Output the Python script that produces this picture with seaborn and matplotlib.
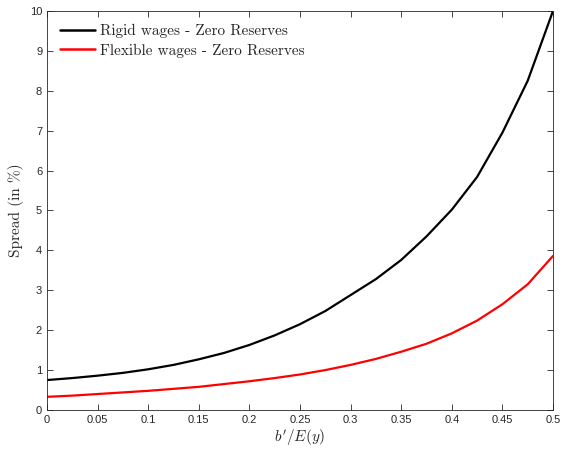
import pandas as pd
import matplotlib
matplotlib.use('Agg')
import matplotlib.pyplot as plt
import seaborn as sns

# values
ratio = [0.0, 0.025, 0.05, 0.075, 0.1, 0.125, 0.15, 0.175, 0.2, 0.225, 0.25,
         0.275, 0.3, 0.325, 0.35, 0.375, 0.4, 0.425, 0.45, 0.475, 0.5]
rigid = [0.75, 0.80, 0.86, 0.93, 1.02, 1.13, 1.27, 1.43, 1.63, 1.87, 2.15,
         2.48, 2.88, 3.28, 3.76, 4.35, 5.02, 5.84, 6.95, 8.25, 10.0]
flexible = [0.33, 0.36, 0.40, 0.44, 0.48, 0.53, 0.58, 0.65, 0.72, 0.80, 0.89,
            1.00, 1.13, 1.28, 1.46, 1.66, 1.92, 2.24, 2.65, 3.15, 3.86]
series_names = ['Rigid wages - Zero Reserves', 'Flexible wages - Zero Reserves']
xticks = [0, 0.05, 0.1, 0.15, 0.2, 0.25, 0.3, 0.35, 0.4, 0.45, 0.5]
xtick_labels = ['0', '0.05', '0.1', '0.15', '0.2', '0.25', '0.3', '0.35', '0.4', '0.45', '0.5']
yticks = list(range(0, 11))

df = pd.DataFrame({
    'ratio': ratio * 2,
    'spread': rigid + flexible,
    'series': [series_names[0]] * len(ratio) + [series_names[1]] * len(ratio),
})

sns.set_style('ticks')
plt.rcParams['mathtext.fontset'] = 'cm'
plt.rcParams['axes.unicode_minus'] = False

fig = plt.figure(figsize=(5.63, 4.49), dpi=100)
ax = fig.add_axes([0.0835, 0.0869, 0.8987, 0.8886])

sns.lineplot(data=df, x='ratio', y='spread', hue='series', hue_order=series_names,
             palette=['black', 'red'], linewidth=1.6, ax=ax, legend=True)

ax.set_xlim(0, 0.5)
ax.set_ylim(0, 10)
ax.set_xticks(xticks)
ax.set_xticklabels(xtick_labels)
ax.set_yticks(yticks)

tick_color = '#262626'
ax.tick_params(direction='in', top=True, right=True, length=4, width=0.6,
               colors=tick_color, labelsize=8)
for lab in ax.get_xticklabels() + ax.get_yticklabels():
    lab.set_fontfamily(['Liberation Sans', 'DejaVu Sans'])
for side in ax.spines.values():
    side.set_visible(True)
    side.set_color(tick_color)
    side.set_linewidth(0.6)

ax.set_xlabel(r"$b'/E(y)$", fontsize=11, labelpad=2)
ax.set_ylabel('Spread (in %)', fontsize=11, family='cmr10', labelpad=4)

leg = ax.legend(loc='upper left', frameon=False, handlelength=2.3, handletextpad=0.3,
                borderaxespad=0.4, borderpad=0.45, labelspacing=0.35,
                prop={'family': 'cmr10', 'size': 11})
for line in leg.get_lines():
    line.set_linewidth(1.8)

fig.savefig('out.png', dpi=100)
